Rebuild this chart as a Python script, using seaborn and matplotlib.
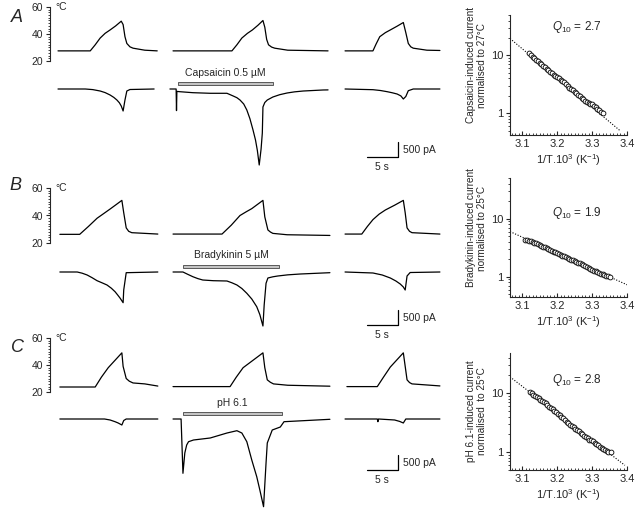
import numpy as np
import pandas as pd
import matplotlib
matplotlib.use('Agg')
import matplotlib.pyplot as plt
import matplotlib.ticker as mticker
from matplotlib.patches import Rectangle
import seaborn as sns

# ---- data: heat-evoked traces (time in s from sweep start) ----
# temperature (deg C)
A_TEMP_T = [[0, 5.2, 6.0, 6.8, 7.6, 8.4, 9.3, 10.2, 10.5, 10.8, 11.1, 11.6, 12.1, 14.0, 16.0],
            [0, 9.5, 10.3, 11.1, 12.0, 12.8, 13.7, 14.5, 14.8, 15.1, 15.4, 15.9, 16.4, 18.5, 25.0],
            [0, 4.5, 5.0, 5.6, 6.5, 7.3, 8.4, 9.4, 9.8, 10.2, 10.6, 11.0, 13.2, 15.3]]
A_TEMP = [[27.5, 27.5, 32, 37, 40.5, 43, 46, 49.5, 47, 38, 33, 30.5, 29.5, 28, 27.5],
          [27.5, 27.5, 32, 37, 40.5, 43, 46.5, 50, 45, 36, 32, 30.3, 29.5, 28, 27.5],
          [27.5, 27.5, 32.5, 38, 41, 43, 45.8, 48.5, 41, 33, 30.5, 29.5, 28, 27.8]]
B_TEMP_T = [[0.3, 3.5, 4.9, 6.3, 7.4, 8.4, 9.4, 10.3, 10.6, 11.0, 11.4, 11.9, 16.1],
            [0, 7.9, 9.4, 10.8, 11.8, 12.7, 13.6, 14.5, 14.8, 15.3, 15.7, 16.1, 18.4, 25.3],
            [0, 2.7, 3.6, 4.5, 5.5, 6.5, 8.0, 9.4, 9.7, 10.0, 10.4, 10.8, 15.3]]
B_TEMP = [[26.3, 26.3, 32, 38, 41.5, 44.7, 48, 51, 42, 31, 28.5, 27.5, 26.5],
          [26.5, 26.5, 33, 40, 42.7, 45, 48, 51, 39, 29.5, 28, 27, 26, 25.5],
          [26.5, 26.5, 32, 37, 41, 44, 47.5, 51, 42, 31, 28.5, 27.5, 26.5]]
C_TEMP_T = [[0.3, 6.0, 7.0, 8.1, 9.2, 10.3, 10.5, 11.0, 11.5, 12.1, 14.0, 16.1],
            [0, 9.2, 10.2, 11.3, 12.9, 14.5, 14.8, 15.2, 15.7, 16.2, 18.5, 25.3],
            [0.3, 5.2, 6.2, 7.3, 8.4, 9.4, 10.0, 10.4, 10.8, 15.3]]
C_TEMP = [[23.7, 23.7, 31, 38, 43.5, 49, 39, 30, 28, 26.7, 26, 24.4],
          [24, 24, 31, 38, 43.5, 49, 38, 29, 27.2, 26, 25, 24.3],
          [24, 24, 31, 38.5, 44, 49, 29, 27, 26, 24.5]]

# membrane current (pA)
A_CUR_T = [[0, 4.4, 5.6, 6.8, 7.6, 8.4, 9.0, 9.5, 9.9, 10.2, 10.5, 10.8, 11.1, 11.6, 15.5],
           [-0.5, 0.5, 0.56, 0.62, 1.1, 3.2, 6.0, 8.7, 9.7, 10.3, 10.8, 11.4, 11.9, 12.4,
            12.9, 13.3, 13.6, 13.9, 14.2, 14.4, 14.5, 14.8, 15.2, 16.1, 17.2, 18.4, 19.6,
            21.0, 24.2, 25.0],
           [0, 4.5, 5.7, 6.8, 7.6, 8.4, 9.0, 9.4, 9.8, 10.2, 11.0, 15.3]]
A_CUR = [[0, 0, -20, -67, -120, -200, -280, -367, -460, -567, -733, -367, -67, -17, 0],
         [0, 0, -720, -80, -90, -123, -143, -143, -233, -290, -367, -500, -700, -990,
          -1367, -1700, -2050, -2533, -2000, -1467, -600, -450, -367, -267, -190, -133, -95,
          -67, -33, -30],
         [0, -23, -50, -90, -125, -167, -230, -333, -250, -57, 0, 0]]
B_CUR_T = [[0.3, 3.1, 3.9, 4.7, 5.5, 6.3, 7.1, 7.9, 8.6, 9.2, 9.6, 10.0, 10.5, 10.6, 11.0, 16.1],
           [0, 1.6, 2.4, 3.2, 4.0, 4.8, 6.5, 8.7, 9.5, 10.3, 11.1, 11.9, 12.7, 13.5, 14.0,
            14.5, 14.7, 15.0, 15.3, 16.1, 16.9, 18.5, 20.5, 25.3],
           [0, 4.5, 6.0, 7.3, 8.2, 8.9, 9.4, 9.7, 10.0, 10.5, 15.3]]
B_CUR = [[0, 0, -40, -100, -190, -290, -360, -433, -540, -657, -760, -867, -1023, -600, -23, 0],
         [0, 0, -80, -157, -220, -267, -290, -300, -360, -433, -550, -710, -900, -1157, -1420,
          -1800, -1100, -377, -200, -160, -133, -95, -67, -23],
         [0, -33, -100, -200, -300, -400, -500, -600, -133, -17, 0]]
C_CUR_T = [[0.3, 7.5, 8.4, 9.2, 9.7, 10.3, 10.6, 11.0, 16.1],
           [0, 1.3, 1.6, 1.9, 2.2, 2.5, 3.3, 6.0, 8.7, 10.3, 11.1, 11.9, 12.7,
            13.5, 14.0, 14.6, 15.0, 15.2, 16.0, 17.3, 17.9, 25.3],
           [0, 5.2, 5.3, 5.4, 8.0, 8.8, 9.4, 9.8, 15.3]]
C_CUR = [[0, 0, -33, -90, -133, -200, -50, 0, 0],
         [0, 0, -1810, -1133, -867, -757, -700, -633, -467, -390, -467, -757,
          -1367, -1923, -2367, -2923, -1467, -800, -367, -267, -90, -10],
         [0, 0, -90, 0, -33, -80, -133, 0, 0]]

# agonist application during the middle sweep (s)
DRUG_NAMES = ['Capsaicin 0.5 µM', 'Bradykinin 5 µM', 'pH 6.1']
DRUG_ON = [0.8, 1.6, 1.6]
DRUG_OFF = [16.1, 17.1, 17.6]

# ---- data: Arrhenius plots ----
A_INVT = [3.120, 3.125, 3.130, 3.135, 3.140, 3.145, 3.150, 3.155, 3.160, 3.165,
          3.170, 3.175, 3.180, 3.185, 3.190, 3.195, 3.200, 3.205, 3.210, 3.215,
          3.220, 3.225, 3.230, 3.235, 3.240, 3.245, 3.250, 3.255, 3.260, 3.265,
          3.270, 3.275, 3.280, 3.285, 3.290, 3.295, 3.300, 3.305, 3.310, 3.315,
          3.320, 3.325, 3.330]
A_NORM = [10.8, 10.2, 9.5, 9.0, 8.4, 8.0, 7.5, 7.0, 6.6, 6.2,
          5.9, 5.5, 5.2, 4.9, 4.6, 4.4, 4.2, 4.0, 3.8, 3.65,
          3.45, 3.2, 2.95, 2.75, 2.6, 2.5, 2.35, 2.2, 2.05, 1.95,
          1.85, 1.75, 1.65, 1.58, 1.5, 1.45, 1.42, 1.32, 1.26, 1.2,
          1.12, 1.06, 1.02]
A_FIT_X = [3.065, 3.38]
A_FIT_Y = [19.6, 0.5]

B_INVT = [3.108, 3.115, 3.120, 3.125, 3.130, 3.135, 3.140, 3.145, 3.150, 3.155,
          3.160, 3.165, 3.170, 3.175, 3.180, 3.185, 3.190, 3.195, 3.200, 3.205,
          3.210, 3.215, 3.220, 3.225, 3.230, 3.235, 3.240, 3.245, 3.250, 3.255,
          3.260, 3.265, 3.270, 3.275, 3.280, 3.285, 3.290, 3.295, 3.300, 3.305,
          3.310, 3.315, 3.320, 3.325, 3.330, 3.335, 3.340, 3.345, 3.350]
B_NORM = [4.35, 4.25, 4.2, 4.05, 3.95, 3.85, 3.75, 3.6, 3.5, 3.4,
          3.3, 3.2, 3.1, 3.0, 2.9, 2.8, 2.72, 2.65, 2.57, 2.48,
          2.4, 2.32, 2.25, 2.18, 2.12, 2.05, 1.98, 1.92, 1.86, 1.8,
          1.74, 1.7, 1.65, 1.58, 1.52, 1.48, 1.42, 1.36, 1.32, 1.28,
          1.25, 1.2, 1.17, 1.13, 1.1, 1.07, 1.04, 1.02, 1.0]
B_FIT_X = [3.065, 3.40]
B_FIT_Y = [6.0, 0.73]

C_INVT = [3.122, 3.127, 3.132, 3.137, 3.142, 3.147, 3.152, 3.157, 3.162, 3.167,
          3.172, 3.177, 3.182, 3.187, 3.192, 3.197, 3.202, 3.207, 3.212, 3.217,
          3.222, 3.227, 3.232, 3.237, 3.242, 3.247, 3.252, 3.257, 3.262, 3.267,
          3.272, 3.277, 3.282, 3.287, 3.292, 3.297, 3.302, 3.307, 3.312, 3.317,
          3.322, 3.327, 3.332, 3.337, 3.342, 3.347, 3.353]
C_NORM = [10.5, 10.0, 9.4, 9.0, 8.6, 8.2, 7.8, 7.4, 7.0, 6.7,
          6.3, 5.9, 5.6, 5.3, 5.0, 4.8, 4.5, 4.2, 3.95, 3.75,
          3.55, 3.3, 3.1, 2.95, 2.8, 2.65, 2.5, 2.35, 2.25, 2.1,
          2.0, 1.9, 1.8, 1.72, 1.62, 1.6, 1.52, 1.45, 1.38, 1.32,
          1.25, 1.2, 1.15, 1.1, 1.05, 1.02, 1.0]
C_FIT_X = [3.065, 3.394]
C_FIT_Y = [18.9, 0.6]

Q10 = ['2.7', '1.9', '2.8']
AGONIST_LABELS = ['Capsaicin-induced current\nnormalised to 27°C',
                  'Bradykinin-induced current\nnormalised to 25°C',
                  'pH 6.1-induced current\nnormalised  to 25°C']

# ---- layout ----
W, H = 636, 511
SWEEP_START = [1.29, 19.84, 47.58]     # s, where each sweep is drawn
T_MAX = 63.7                           # s across the trace area
PX_PER_PA = 15 / 500
TEMP_PX = [(7, 61), (188, 243), (338, 392)]
CUR_PX = [(66, 175), (248, 335), (395, 511)]
CUR_BASE_PX = [89, 272, 419]
SCALE_PX = [142, 310, 455]
RIGHT_PX = [(15, 135), (178, 297), (353, 470)]
RIGHT_YLIM = [(0.42, 50), (0.45, 50), (0.5, 48)]
YLABEL_Y = [0.58, 0.58, 0.5]
Q10_Y = [0.9, 0.71, 0.77]
LETTER_PX = [(17, 17), (15, 186), (17, 347)]

sns.set_style('ticks')
plt.rcParams['font.family'] = ['Liberation Sans', 'DejaVu Sans']
plt.rcParams['mathtext.fontset'] = 'custom'
plt.rcParams['mathtext.rm'] = 'Liberation Sans'
plt.rcParams['mathtext.it'] = 'Liberation Sans:italic'

fig = plt.figure(figsize=(W / 100, H / 100), dpi=100)


def px_axes(l, t, r, b):
    return fig.add_axes([l / W, 1 - b / H, (r - l) / W, (b - t) / H])


def trace(ax, t, v, start):
    df = pd.DataFrame({'t': np.asarray(t) + start, 'v': v})
    sns.lineplot(data=df, x='t', y='v', ax=ax, color='black', lw=0.9,
                 estimator=None, sort=False)


temps = [(A_TEMP_T, A_TEMP), (B_TEMP_T, B_TEMP), (C_TEMP_T, C_TEMP)]
curs = [(A_CUR_T, A_CUR), (B_CUR_T, B_CUR), (C_CUR_T, C_CUR)]
arrh = [(A_INVT, A_NORM, A_FIT_X, A_FIT_Y), (B_INVT, B_NORM, B_FIT_X, B_FIT_Y),
        (C_INVT, C_NORM, C_FIT_X, C_FIT_Y)]

for r in range(3):
    # temperature
    axT = px_axes(50, TEMP_PX[r][0], 445, TEMP_PX[r][1])
    tt, tv = temps[r]
    for s in range(3):
        trace(axT, tt[s], tv[s], SWEEP_START[s])
    axT.set_xlim(0, T_MAX)
    axT.set_ylim(20, 60)
    for sp in ['top', 'right', 'bottom']:
        axT.spines[sp].set_visible(False)
    axT.spines['left'].set_linewidth(0.8)
    axT.set_xticks([])
    axT.set_yticks([20, 40, 60])
    axT.yaxis.set_minor_locator(mticker.MultipleLocator(2))
    axT.tick_params(axis='y', which='major', labelsize=7.5, length=3, width=0.8, pad=2)
    axT.tick_params(axis='y', which='minor', length=1.5, width=0.6)
    axT.set_xlabel('')
    axT.set_ylabel('')
    axT.text(0.8, 60, '°C', ha='left', va='center', fontsize=7.5)

    # current
    top, bot = CUR_PX[r]
    base = CUR_BASE_PX[r]
    axC = px_axes(50, top, 445, bot)
    ct, cv = curs[r]
    for s in range(3):
        trace(axC, ct[s], cv[s], SWEEP_START[s])
    axC.set_xlim(0, T_MAX)
    axC.set_ylim(-(bot - base) / PX_PER_PA, (base - top) / PX_PER_PA)
    axC.axis('off')

    # agonist bar
    on = DRUG_ON[r] + SWEEP_START[1]
    off = DRUG_OFF[r] + SWEEP_START[1]
    axC.add_patch(Rectangle((on, 150), off - on, 100, facecolor='#c4c4c4',
                            edgecolor='#444444', lw=0.6))
    axC.text((on + off) / 2, 550, DRUG_NAMES[r], ha='center', va='center', fontsize=7.5)

    # scale bar
    y0 = -(SCALE_PX[r] - base) / PX_PER_PA - 500
    xb = 56.1
    axC.plot([xb - 5, xb, xb], [y0, y0, y0 + 500], color='black', lw=0.9)
    axC.text(xb + 0.9, y0 + 250, '500 pA', ha='left', va='center', fontsize=7.5)
    axC.text(xb - 2.5, y0 - 330, '5 s', ha='center', va='center', fontsize=7.5)

    # Arrhenius plot
    axR = px_axes(510, RIGHT_PX[r][0], 627, RIGHT_PX[r][1])
    x, y, fx, fy = arrh[r]
    sns.lineplot(x=fx, y=fy, ax=axR, color='black', lw=0.8, linestyle=(0, (1, 1.5)))
    sns.scatterplot(x=x, y=y, ax=axR, marker='o', s=12, facecolor='white',
                    edgecolor='black', linewidth=0.6, zorder=3)
    axR.set_yscale('log')
    axR.set_xlim(3.065, 3.40)
    axR.set_ylim(*RIGHT_YLIM[r])
    axR.set_xticks([3.1, 3.2, 3.3, 3.4])
    axR.xaxis.set_minor_locator(mticker.MultipleLocator(0.01))
    axR.set_yticks([1, 10])
    axR.yaxis.set_major_formatter(mticker.FuncFormatter(lambda v, p: f'{v:g}'))
    axR.yaxis.set_minor_formatter(mticker.NullFormatter())
    for sp in ['top', 'right']:
        axR.spines[sp].set_visible(False)
    for sp in ['left', 'bottom']:
        axR.spines[sp].set_linewidth(0.8)
    axR.tick_params(axis='x', which='major', direction='in', length=3, width=0.8,
                    labelsize=8, pad=3)
    axR.tick_params(axis='x', which='minor', direction='in', length=1.5, width=0.6)
    axR.tick_params(axis='y', which='major', direction='out', length=3, width=0.8,
                    labelsize=8, pad=2)
    axR.tick_params(axis='y', which='minor', direction='out', length=1.5, width=0.6)
    axR.set_xlabel(r'1/T.10$^3$ (K$^{-1}$)', fontsize=8, labelpad=2)
    axR.set_ylabel(AGONIST_LABELS[r], fontsize=7.2, linespacing=1.05)
    axR.yaxis.set_label_coords(-0.2, YLABEL_Y[r])
    axR.text(0.57, Q10_Y[r], r'$Q_{10}$ = ' + Q10[r], transform=axR.transAxes,
             ha='center', va='center', fontsize=8.5)

    lx, ly = LETTER_PX[r]
    fig.text(lx / W, 1 - ly / H, 'ABC'[r], fontsize=13, fontstyle='italic',
             ha='center', va='center')

fig.savefig('out.png', dpi=100)
